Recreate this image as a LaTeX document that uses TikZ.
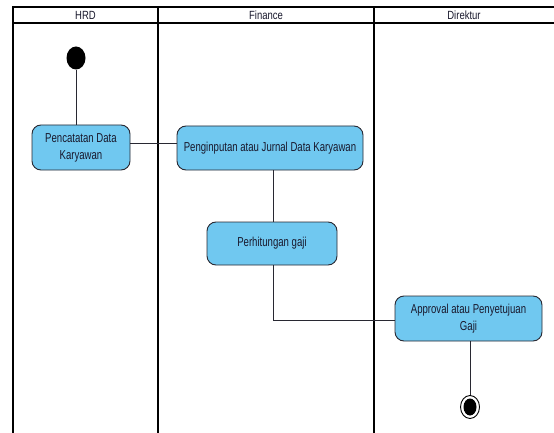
\documentclass[tikz,border=0pt]{standalone}
\usepackage{fontspec}
\setmainfont{Liberation Sans}
\usetikzlibrary{shapes.geometric}
\definecolor{actfill}{RGB}{112,200,240}
\definecolor{actline}{RGB}{40,40,50}
\definecolor{txt}{RGB}{25,25,45}
\newcommand{\vtxt}[1]{\scalebox{1}[1.35]{\begin{tabular}{@{}c@{}}#1\end{tabular}}}
\newcommand{\htxt}[1]{\scalebox{1}[1.25]{#1}}
\begin{document}
\begin{tikzpicture}[x=1pt,y=-1pt,
  lane/.style={line width=1.8pt,black},
  act/.style={draw=actline,line width=0.9pt,fill=actfill,rounded corners=9pt,
    font=\fontsize{9.6}{12.4}\selectfont,text=txt,align=center,inner sep=0pt},
  flow/.style={line width=0.8pt,actline},
  hdr/.style={font=\fontsize{9.5}{10}\selectfont,text=txt,inner sep=0pt}]
\useasboundingbox (0,0) rectangle (554,433);
\fill[white] (0,0) rectangle (554,433);
% swimlanes
\draw[lane] (13,436) -- (13,7) -- (556,7);
\draw[lane] (13,23) -- (556,23);
\draw[lane] (158,7) -- (158,436);
\draw[lane] (374,7) -- (374,436);
\node[hdr] (hHRD) at (85.5,15) {\htxt{HRD}};
\node[hdr] (hFin) at (266,15) {\htxt{Finance}};
\node[hdr] (hDir) at (464,15) {\htxt{Direktur}};
% nodes
\node[ellipse,fill=black,minimum width=19pt,minimum height=23pt,inner sep=0pt] (start) at (76,58) {};
\node[act,minimum width=98pt,minimum height=45pt] (a1) at (81,147.5) {\vtxt{Pencatatan Data\\Karyawan}};
\node[act,minimum width=186pt,minimum height=44pt] (a2) at (270,148) {\vtxt{Penginputan atau Jurnal Data Karyawan}};
\node[act,minimum width=130pt,minimum height=43pt] (a3) at (272,243.5) {\vtxt{Perhitungan gaji}};
\node[act,minimum width=147pt,minimum height=45pt] (a4) at (468.5,318.5) {\vtxt{Approval atau Penyetujuan\\Gaji}};
\node[ellipse,draw=black,line width=0.9pt,fill=white,minimum width=19pt,minimum height=23pt,inner sep=0pt] (end) at (470,407) {};
\node[ellipse,fill=black,minimum width=13pt,minimum height=17pt,inner sep=0pt] (endin) at (end.center) {};
% flows
\draw[flow] (start.south) -- (start.south |- a1.north);
\draw[flow] (a1.east |- 0,143) -- (a2.west |- 0,143);
\draw[flow] (a2.south -| 273,0) -- (a3.north -| 273,0);
\draw[flow] (a3.south -| 273,0) -- (273,320) -- (a4.west |- 0,320);
\draw[flow] (a4.south -| 470,0) -- (end.north);
\end{tikzpicture}
\end{document}
